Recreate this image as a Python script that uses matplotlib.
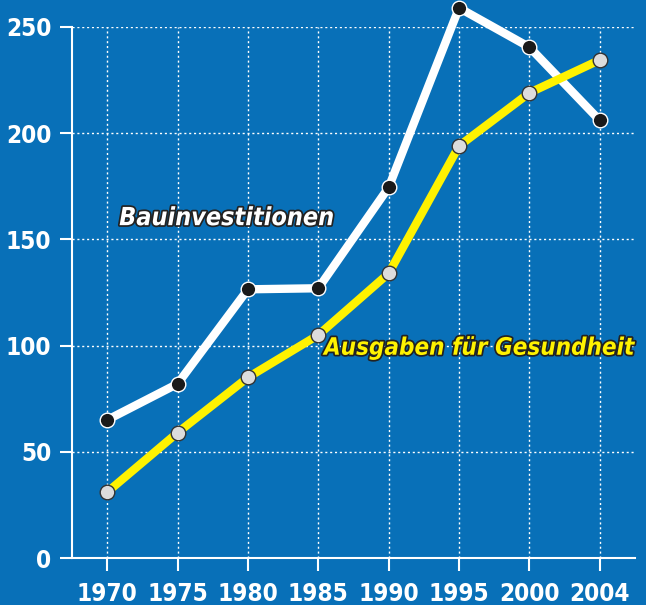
import matplotlib
matplotlib.use("Agg")
import matplotlib.pyplot as plt
import matplotlib.patheffects as pe

years = ["1970", "1975", "1980", "1985", "1990", "1995", "2000", "2004"]
bau = [65, 82, 126.5, 127, 174.5, 259, 240.5, 206]
gesundheit = [31, 59, 85, 105, 134, 194, 219, 234.5]

bg = "#0870b8"
plt.rcParams['font.family'] = ['DejaVu Sans']
plt.rcParams['font.stretch'] = 'condensed'

fig = plt.figure(figsize=(6.46, 6.05), dpi=100, facecolor=bg)
ax = fig.add_axes([72 / 646, 47 / 605, 563 / 646, 531 / 605], facecolor=bg)

x = list(range(len(years)))
ax.plot(x, bau, color="white", lw=6, solid_joinstyle="miter", clip_on=False, zorder=3,
        marker="o", ms=10.5, mfc="#1a1a1a", mec="white", mew=1)
ax.plot(x, gesundheit, color="#fff200", lw=6, clip_on=False, zorder=3,
        marker="o", ms=10.5, mfc="#dcdcdc", mec="#333333", mew=1)

ax.set_xlim(-0.5, 7.5)
ax.set_ylim(0, 250)
ax.set_xticks(x)
ax.set_xticklabels(years)
ax.set_yticks([0, 50, 100, 150, 200, 250])

for s in ["top", "right"]:
    ax.spines[s].set_visible(False)
for s in ["left", "bottom"]:
    ax.spines[s].set_color("white")
    ax.spines[s].set_linewidth(1.5)

ax.tick_params(colors="white", width=1.5, length=9, labelsize=17.5)
ax.tick_params(axis="x", pad=8)
ax.tick_params(axis="y", pad=6)
for lab in ax.get_xticklabels() + ax.get_yticklabels():
    lab.set_fontweight("bold")

ax.grid(True, color="white", linestyle=(0, (1.5, 2)), linewidth=1)
ax.set_axisbelow(True)

outline = [pe.withStroke(linewidth=2.5, foreground="#222222")]
ax.text(0.17, 160, "Bauinvestitionen", color="white", fontsize=18, fontweight="bold",
        fontstyle="italic", ha="left", va="center", path_effects=outline, zorder=4)
ax.text(3.08, 99, "Ausgaben für Gesundheit", color="#fff200", fontsize=17.3, fontweight="bold",
        fontstyle="italic", ha="left", va="center", path_effects=outline, zorder=4,
        clip_on=False)

fig.savefig("out.png", dpi=100, facecolor=bg)
